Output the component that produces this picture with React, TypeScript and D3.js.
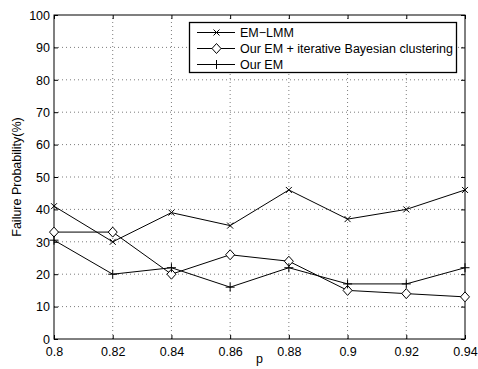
import { useRef, useEffect } from 'react';
import * as d3 from 'd3';

const pValues = [0.8, 0.82, 0.84, 0.86, 0.88, 0.9, 0.92, 0.94];
const emLmm = [41, 30, 39, 35, 46, 37, 40, 46];
const ourEmBayes = [33, 33, 20, 26, 24, 15, 14, 13];
const ourEm = [30.5, 20, 22, 16, 22, 17, 17, 22];
const seriesNames = ['EM\u2212LMM', 'Our EM + iterative Bayesian clustering', 'Our EM'];
const xTicks = [0.8, 0.82, 0.84, 0.86, 0.88, 0.9, 0.92, 0.94];
const yTicks = [0, 10, 20, 30, 40, 50, 60, 70, 80, 90, 100];

const W = 478;
const H = 369;
const FONT = 'Liberation Sans, Arial, sans-serif';
const FS = 12.5;

type Marker = 'x' | 'diamond' | 'plus';

const drawMarker = (g: d3.Selection<SVGGElement, unknown, null, undefined>, kind: Marker, x: number, y: number) => {
  const s = 3;
  let d = '';
  if (kind === 'x') d = `M${x - s},${y - s}L${x + s},${y + s}M${x - s},${y + s}L${x + s},${y - s}`;
  if (kind === 'plus') d = `M${x - 4.5},${y}L${x + 4.5},${y}M${x},${y - 4.5}L${x},${y + 4.5}`;
  if (kind === 'diamond') d = `M${x},${y - 5}L${x + 4.5},${y}L${x},${y + 5}L${x - 4.5},${y}Z`;
  g.append('path')
    .attr('d', d)
    .attr('fill', kind === 'diamond' ? 'white' : 'none')
    .attr('stroke', 'black')
    .attr('stroke-width', 1);
};

const App = () => {
  const svgRef = useRef<SVGSVGElement>(null);

  useEffect(() => {
    const svg = d3.select(svgRef.current);
    svg.selectAll('*').remove();

    const left = 54, right = 465, top = 15, bottom = 339;

    const x = d3.scaleLinear().domain([0.8, 0.94]).range([left, right]);
    const y = d3.scaleLinear().domain([0, 100]).range([bottom, top]);

    svg.append('rect').attr('width', W).attr('height', H).attr('fill', 'white');

    // dotted grid
    const grid = svg.append('g').attr('stroke', '#444').attr('stroke-width', 0.7).attr('stroke-dasharray', '1,3');
    xTicks.slice(1, -1).forEach(t => {
      grid.append('line').attr('x1', x(t)).attr('x2', x(t)).attr('y1', bottom).attr('y2', top);
    });
    yTicks.slice(1, -1).forEach(t => {
      grid.append('line').attr('x1', left).attr('x2', right).attr('y1', y(t)).attr('y2', y(t));
    });

    // axes with inward ticks
    const axB = svg.append('g').attr('transform', `translate(0,${bottom})`)
      .call(d3.axisBottom(x).tickValues(xTicks).tickSize(-4).tickPadding(8).tickFormat(d => String(d)));
    const axL = svg.append('g').attr('transform', `translate(${left},0)`)
      .call(d3.axisLeft(y).tickValues(yTicks).tickSize(-4).tickPadding(4));
    const axT = svg.append('g').attr('transform', `translate(0,${top})`)
      .call(d3.axisTop(x).tickValues(xTicks).tickSize(-4).tickFormat(() => ''));
    const axR = svg.append('g').attr('transform', `translate(${right},0)`)
      .call(d3.axisRight(y).tickValues(yTicks).tickSize(-4).tickFormat(() => ''));
    [axB, axL, axT, axR].forEach(a => {
      a.select('.domain').remove();
      a.selectAll('line').attr('stroke', 'black');
      a.selectAll('text').attr('font-family', FONT).attr('font-size', FS).attr('fill', 'black');
    });
    axL.selectAll('text').attr('dy', '0.35em');

    svg.append('rect')
      .attr('x', left).attr('y', top).attr('width', right - left).attr('height', bottom - top)
      .attr('fill', 'none').attr('stroke', 'black').attr('stroke-width', 1);

    const series: [number[], Marker][] = [[emLmm, 'x'], [ourEmBayes, 'diamond'], [ourEm, 'plus']];
    const line = d3.line<number>().x((_, i) => x(pValues[i])).y(d => y(d));
    series.forEach(([vals, m]) => {
      svg.append('path').datum(vals).attr('d', line)
        .attr('fill', 'none').attr('stroke', 'black').attr('stroke-width', 1);
      const g = svg.append('g');
      vals.forEach((v, i) => drawMarker(g, m, x(pValues[i]), y(v)));
    });

    // legend
    const lg = svg.append('g');
    lg.append('rect').attr('x', 189.5).attr('y', 22.5).attr('width', 267).attr('height', 50)
      .attr('fill', 'white').attr('stroke', 'black').attr('stroke-width', 1.3);
    series.forEach(([, m], i) => {
      const ly = 32.5 + i * 16;
      lg.append('line').attr('x1', 197).attr('x2', 235).attr('y1', ly).attr('y2', ly)
        .attr('stroke', 'black').attr('stroke-width', 1);
      drawMarker(lg, m, 216.5, ly);
      lg.append('text').attr('x', 240).attr('y', ly).attr('dy', '0.35em')
        .attr('font-family', FONT).attr('font-size', FS).text(seriesNames[i]);
    });

    svg.append('text').attr('x', (left + right) / 2).attr('y', 363)
      .attr('text-anchor', 'middle').attr('font-family', FONT).attr('font-size', FS).text('p');
    svg.append('text').attr('transform', `translate(21,${(top + bottom) / 2}) rotate(-90)`)
      .attr('text-anchor', 'middle').attr('font-family', FONT).attr('font-size', FS)
      .text('Failure Probability(%)');
  }, []);

  return <svg ref={svgRef} width={W} height={H} style={{ position: 'absolute', left: 0, top: 0 }}></svg>;
};

export default App;
